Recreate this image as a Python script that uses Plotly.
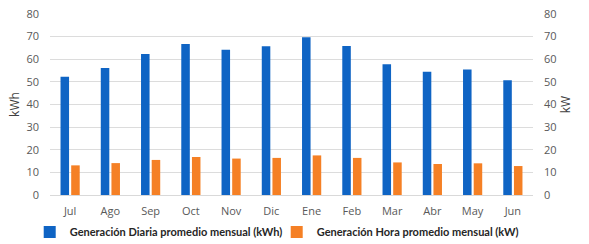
import plotly.graph_objects as go

months = ["Jul", "Ago", "Sep", "Oct", "Nov", "Dic", "Ene", "Feb", "Mar", "Abr", "May", "Jun"]
gen_diaria_kwh = [52.3, 56.1, 62.3, 66.7, 64.2, 65.7, 69.7, 65.9, 57.8, 54.5, 55.5, 50.7]
gen_hora_kw = [13.1, 14.1, 15.5, 16.8, 16.1, 16.4, 17.5, 16.4, 14.4, 13.7, 14.0, 12.8]
y_ticks = [0, 10, 20, 30, 40, 50, 60, 70, 80]

BLUE = "#0f64c4"
ORANGE = "#f58025"
TICK = "#595959"

fig = go.Figure()
fig.add_trace(go.Bar(x=months, y=gen_diaria_kwh, name="Generación Diaria promedio mensual (kWh)",
                     marker=dict(color=BLUE, line=dict(width=0)), offsetgroup="a", yaxis="y"))
fig.add_trace(go.Bar(x=months, y=gen_hora_kw, name="Generación Hora promedio mensual (kW)",
                     marker=dict(color=ORANGE, line=dict(width=0)), offsetgroup="b", yaxis="y2"))

fig.update_layout(
    width=589, height=244,
    margin=dict(l=50, r=56, t=14, b=49, autoexpand=False),
    paper_bgcolor="white", plot_bgcolor="white",
    barmode="group", bargap=0.47, bargroupgap=0.2,
    font=dict(family="Open Sans, Liberation Sans, sans-serif", size=11, color=TICK),
    showlegend=True,
    legend=dict(orientation="h", x=-0.042, xanchor="left", y=-0.205, yanchor="middle",
                bgcolor="rgba(0,0,0,0)", entrywidth=202,
                font=dict(size=11, color="#262626", family="Lato, sans-serif", weight="bold"),
                itemwidth=30, tracegroupgap=0, traceorder="normal"),
    xaxis=dict(showgrid=False, showline=True, linecolor="#d9d9d9", linewidth=1,
               ticks="", tickfont=dict(size=11, color=TICK), ticklabelstandoff=6),
    yaxis=dict(range=[0, 80], tickvals=y_ticks, showgrid=True, gridcolor="#dcdcdc", gridwidth=1,
               zeroline=False, showline=False, tickfont=dict(size=11, color=TICK),
               ticklabelstandoff=10,
               title=dict(text="kWh", font=dict(size=12, color="#404040"), standoff=4)),
    yaxis2=dict(range=[0, 80], tickvals=y_ticks, overlaying="y", side="right", showgrid=False,
                zeroline=False, showline=False, tickfont=dict(size=11, color=TICK),
                ticklabelstandoff=10,
                title=dict(text="kW", font=dict(size=12, color="#404040"), standoff=6)),
)

fig.write_html("out.html", config={"displayModeBar": False},
               post_script="document.body.style.margin='0';")
